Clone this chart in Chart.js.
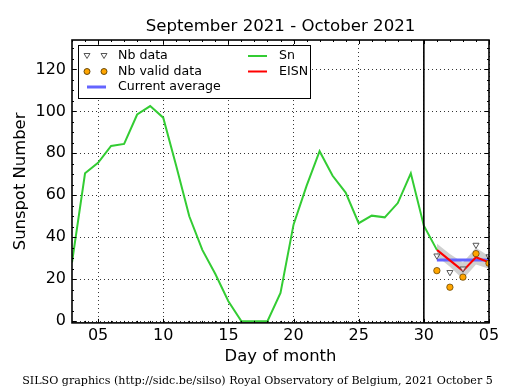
<!DOCTYPE html>
<html>
<head>
    <title>Sunspot Number : September 2021 - October 2021</title>
    <script src="https://cdn.jsdelivr.net/npm/chart.js"></script>
    <style>
        body { margin: 0; background: #fff; }
    </style>
</head>
<body>
    <canvas id="ssnChart" width="515" height="390"></canvas>
    <script>
        // daily sunspot number (Sn), day of month counted from 1 September
        const snDays = [3, 4, 5, 6, 7, 8, 9, 10, 11, 12, 13, 14, 15, 16, 17, 18, 19, 20, 21, 22, 23, 24, 25, 26, 27, 28, 29, 30, 31];
        const snValues = [28, 70.5, 75.5, 83.5, 84.5, 98.5, 102.5, 97, 74, 50, 34, 22.5, 9.5, 0, 0, 0, 13.5, 46, 64.5, 81, 69.3, 61.3, 46.7, 50.3, 49.5, 56.3, 70.5, 45.5, 34];

        // estimated ISN for the last days (1-5 October)
        const eisnDays = [31, 32, 33, 34, 35];
        const eisnValues = [34, 29, 24, 30.5, 28];
        const eisnUpper = [37, 32, 28, 35, 31];
        const eisnLower = [31, 26, 20, 27, 25];
        const currentAverage = [29.2, 29.2, 29.2, 29.2, 29.2];
        const nbData = [31.2, 23.3, 25, 36.3, 30.8];
        const nbValidData = [24.1, 16.2, 21, 32.2, 27.6];

        const cutoffDay = 30;
        const xTickValues = [5, 10, 15, 20, 25, 30, 35];
        const xTickLabels = ['05', '10', '15', '20', '25', '30', '05'];
        const yTickValues = [0, 20, 40, 60, 80, 100, 120];

        const pts = (xs, ys) => xs.map((x, i) => ({ x: x, y: ys[i] }));
        const font16 = { family: 'DejaVu Sans', size: 16 };
        const labelFont = { family: 'DejaVu Sans', size: 16.4 };

        // inward ticks on all four sides, frame and the "today" line
        const framePlugin = {
            id: 'frame',
            afterDatasetsDraw(chart) {
                const { ctx, chartArea: a, scales: { x, y } } = chart;
                ctx.save();
                ctx.strokeStyle = '#000';
                ctx.lineWidth = 1;
                ctx.beginPath();
                for (let d = Math.ceil(x.min); d <= x.max; d++) {
                    const px = Math.round(x.getPixelForValue(d)) + 0.5;
                    const len = d % 5 === 0 ? 4 : 2;
                    ctx.moveTo(px, a.bottom); ctx.lineTo(px, a.bottom - len);
                    ctx.moveTo(px, a.top); ctx.lineTo(px, a.top + len);
                }
                for (let v = 0; v <= y.max; v += 5) {
                    const py = Math.round(y.getPixelForValue(v)) + 0.5;
                    const len = v % 20 === 0 ? 4 : 2;
                    ctx.moveTo(a.left, py); ctx.lineTo(a.left + len, py);
                    ctx.moveTo(a.right, py); ctx.lineTo(a.right - len, py);
                }
                ctx.stroke();

                ctx.lineWidth = 1.6;
                const cx = x.getPixelForValue(cutoffDay);
                ctx.beginPath();
                ctx.moveTo(cx, a.top); ctx.lineTo(cx, a.bottom);
                ctx.stroke();
                ctx.strokeRect(a.left, a.top, a.right - a.left, a.bottom - a.top);
                ctx.restore();
            }
        };

        // two-column legend in the upper left corner
        const legendPlugin = {
            id: 'silsoLegend',
            afterDraw(chart) {
                const ctx = chart.ctx;
                const ds = chart.data.datasets;
                const byLabel = l => ds.find(d => d.label === l);
                ctx.save();
                ctx.fillStyle = '#fff';
                ctx.fillRect(78, 45, 233, 54);
                ctx.strokeStyle = '#000';
                ctx.lineWidth = 1;
                ctx.strokeRect(78.5, 45.5, 232, 53);

                const items = [
                    { label: 'Nb data', kind: 'tri', x: 87, y: 56 },
                    { label: 'Nb valid data', kind: 'dot', x: 87, y: 71.5 },
                    { label: 'Current average', kind: 'line', x: 87, y: 87 },
                    { label: 'Sn', kind: 'line', x: 248, y: 56 },
                    { label: 'EISN', kind: 'line', x: 248, y: 71.5 }
                ];
                ctx.font = '12.6px "DejaVu Sans"';
                ctx.textBaseline = 'middle';
                items.forEach(it => {
                    const d = byLabel(it.label);
                    if (it.kind === 'line') {
                        ctx.strokeStyle = d.borderColor;
                        ctx.lineWidth = d.borderWidth;
                        ctx.beginPath();
                        ctx.moveTo(it.x, it.y); ctx.lineTo(it.x + 19, it.y);
                        ctx.stroke();
                    } else {
                        [it.x, it.x + 17].forEach(mx => {
                            ctx.beginPath();
                            if (it.kind === 'tri') {
                                ctx.moveTo(mx - 3, it.y - 2.5);
                                ctx.lineTo(mx + 3, it.y - 2.5);
                                ctx.lineTo(mx, it.y + 2.5);
                                ctx.closePath();
                            } else {
                                ctx.arc(mx, it.y, 3, 0, Math.PI * 2);
                            }
                            ctx.fillStyle = d.pointBackgroundColor;
                            ctx.fill();
                            ctx.strokeStyle = d.pointBorderColor;
                            ctx.lineWidth = 1;
                            ctx.stroke();
                        });
                    }
                    ctx.fillStyle = '#000';
                    ctx.fillText(it.label, it.x + 31, it.y);
                });
                ctx.restore();
            }
        };

        const ctx = document.getElementById('ssnChart').getContext('2d');
        const ssnChart = new Chart(ctx, {
            type: 'line',
            data: {
                datasets: [
                    {
                        label: 'Nb valid data',
                        data: pts(eisnDays, nbValidData),
                        showLine: false,
                        pointStyle: 'circle',
                        pointRadius: 3.2,
                        pointBackgroundColor: '#ffa500',
                        pointBorderColor: 'rgba(90,60,0,0.9)',
                        pointBorderWidth: 0.8,
                        order: 0,
                    },
                    {
                        label: 'Nb data',
                        data: pts(eisnDays, nbData),
                        showLine: false,
                        pointStyle: 'triangle',
                        rotation: 180,
                        pointRadius: 3.5,
                        pointBackgroundColor: 'rgba(255,255,255,0.6)',
                        pointBorderColor: '#555',
                        pointBorderWidth: 1,
                        order: 1,
                    },
                    {
                        label: 'Sn',
                        data: pts(snDays, snValues),
                        borderColor: '#33cc33',
                        borderWidth: 2,
                        pointRadius: 0,
                        fill: false,
                        order: 2,
                    },
                    {
                        label: 'EISN',
                        data: pts(eisnDays, eisnValues),
                        borderColor: '#ff0000',
                        borderWidth: 2,
                        pointRadius: 0,
                        fill: false,
                        order: 3,
                    },
                    {
                        label: 'Current average',
                        data: pts(eisnDays, currentAverage),
                        borderColor: '#6464ff',
                        borderWidth: 3,
                        pointRadius: 0,
                        fill: false,
                        order: 4,
                    },
                    {
                        label: 'EISN upper',
                        data: pts(eisnDays, eisnUpper),
                        borderColor: 'rgba(0,0,0,0)',
                        borderWidth: 0,
                        pointRadius: 0,
                        fill: false,
                        order: 5,
                    },
                    {
                        label: 'EISN lower',
                        data: pts(eisnDays, eisnLower),
                        borderColor: 'rgba(0,0,0,0)',
                        borderWidth: 0,
                        pointRadius: 0,
                        backgroundColor: 'rgba(150,150,150,0.45)',
                        fill: '-1',
                        order: 6,
                    },
                ],
            },
            options: {
                responsive: false,
                animation: false,
                events: [],
                layout: { padding: 0 },
                scales: {
                    x: {
                        type: 'linear',
                        min: 3,
                        max: 35,
                        afterBuildTicks: s => { s.ticks = xTickValues.map(v => ({ value: v })); },
                        afterFit: s => { s.height = 49; },
                        ticks: {
                            callback: v => xTickLabels[xTickValues.indexOf(v)],
                            font: font16,
                            color: '#000',
                            padding: 3,
                            maxRotation: 0,
                            autoSkip: false,
                        },
                        grid: { color: '#000', lineWidth: 0.8, drawTicks: false },
                        border: { display: false, dash: [1, 3] },
                        title: {
                            display: true,
                            text: 'Day of month',
                            font: labelFont,
                            color: '#000',
                            padding: { top: 0, bottom: 5 },
                        },
                    },
                    y: {
                        min: -0.8,
                        max: 134,
                        afterBuildTicks: s => { s.ticks = yTickValues.map(v => ({ value: v })); },
                        afterFit: s => { s.width = 72; },
                        ticks: { font: font16, color: '#000', padding: 6 },
                        grid: { color: '#000', lineWidth: 0.8, drawTicks: false },
                        border: { display: false, dash: [1, 3] },
                        title: {
                            display: true,
                            text: 'Sunspot Number',
                            font: labelFont,
                            color: '#000',
                            padding: { top: 11, bottom: 0 },
                        },
                    },
                    // empty right-hand margin so the footer stays centred on the page
                    yRight: {
                        position: 'right',
                        min: -0.8,
                        max: 134,
                        afterFit: s => { s.width = 26; },
                        ticks: { display: false },
                        grid: { display: false, drawTicks: false },
                        border: { display: false },
                    },
                },
                plugins: {
                    legend: { display: false },
                    tooltip: { enabled: false },
                    title: {
                        display: true,
                        text: 'September 2021 - October 2021',
                        font: { family: 'DejaVu Sans', size: 16.6, weight: 'normal' },
                        color: '#000',
                        fullSize: false,
                        padding: { top: 17.2, bottom: 2.9 },
                    },
                    subtitle: {
                        display: true,
                        position: 'bottom',
                        text: 'SILSO graphics (http://sidc.be/silso) Royal Observatory of Belgium, 2021 October 5',
                        font: { family: 'DejaVu Serif', size: 11.1 },
                        color: '#000',
                        padding: { top: 2.4, bottom: 2.4 },
                    },
                },
            },
            plugins: [framePlugin, legendPlugin],
        });
    </script>
</body>
</html>
